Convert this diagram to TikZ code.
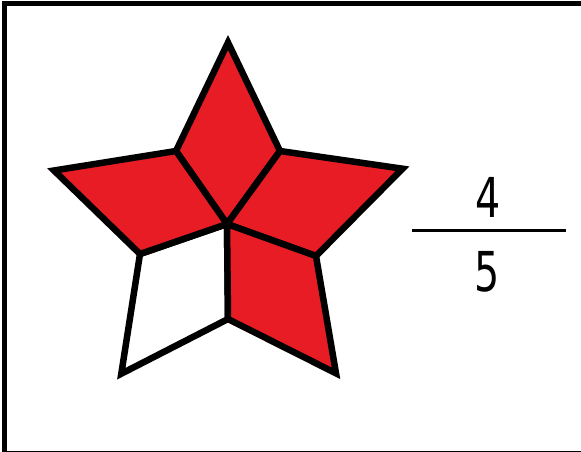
\documentclass[tikz,border=0pt]{standalone}
\usepackage{fontspec}
\setmainfont{DejaVu Sans}
\definecolor{starred}{RGB}{232,28,36}
\begin{document}
\begin{tikzpicture}[x=1pt,y=-1pt,
  kite/.style={draw=black,line width=6.5pt,line join=miter,miter limit=20},
  digit/.style={font=\fontsize{55}{60}\selectfont,inner sep=0pt,xscale=0.72}]
\useasboundingbox (0,0) rectangle (581,451);
\begin{scope}
\clip (0,0) rectangle (581,451);
\fill[white] (-10,-10) rectangle (600,470);
\draw[line width=5pt] (620,3.5) -- (4.5,3.5) -- (4.5,453) -- (620,453);
\end{scope}
% vertices
\coordinate (C) at (227,224);
\coordinate (T) at (228,42.5);
\coordinate (UL) at (176,151);
\coordinate (UR) at (280,151);
\coordinate (L) at (54,170.5);
\coordinate (R) at (402.5,168.7);
\coordinate (LL) at (140,254);
\coordinate (RL) at (316,256);
\coordinate (BL) at (121.3,373.7);
\coordinate (BR) at (336,373.3);
\coordinate (B) at (228,319);
% kites
\draw[kite,fill=white] (C) -- (B) -- (BL) -- (LL) -- cycle;
\draw[kite,fill=starred] (C) -- (UL) -- (T) -- (UR) -- cycle;
\draw[kite,fill=starred] (C) -- (LL) -- (L) -- (UL) -- cycle;
\draw[kite,fill=starred] (C) -- (UR) -- (R) -- (RL) -- cycle;
\draw[kite,fill=starred] (C) -- (RL) -- (BR) -- (B) -- cycle;
% fraction
\node[digit] (num) at (488,197.5) {4};
\node[digit] (den) at (487,272) {5};
\coordinate (fl) at (412,230);
\coordinate (fr) at (566,230);
\draw[line width=3pt] (fl) -- (fr);
\end{tikzpicture}
\end{document}
